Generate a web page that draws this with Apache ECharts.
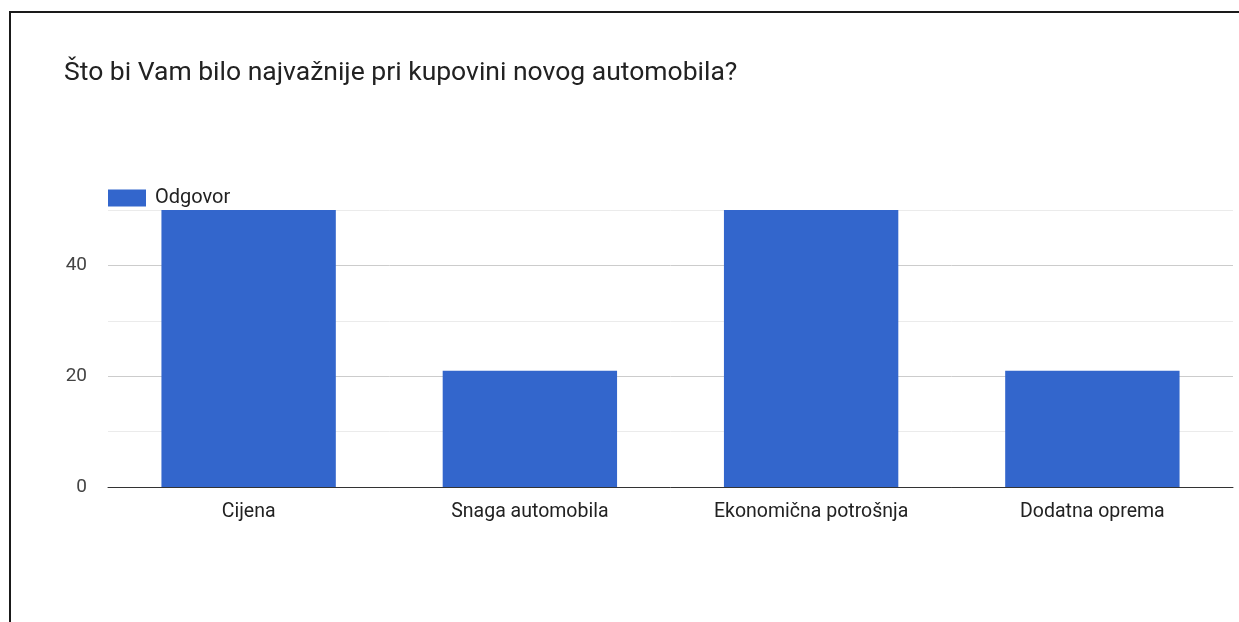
<!DOCTYPE html>
<html>
<head>
<meta charset="utf-8">
<script src="https://cdn.jsdelivr.net/npm/echarts@6/dist/echarts.min.js"></script>
<style>
html,body{margin:0;padding:0;background:#fff;width:1239px;height:622px;overflow:hidden;}
#frame{position:absolute;left:9px;top:11px;right:0;bottom:0;border-left:2px solid #1a1a1a;border-top:2px solid #1a1a1a;}
#chart{position:absolute;left:0;top:0;width:1239px;height:622px;}
</style>
</head>
<body>
<div id="frame"></div>
<div id="chart"></div>
<script>
const titleText = 'Što bi Vam bilo najvažnije pri kupovini novog automobila?';
const seriesName = 'Odgovor';
const categories = ['Cijena', 'Snaga automobila', 'Ekonomična potrošnja', 'Dodatna oprema'];
const values = [50, 21, 50, 21];
const yTickLabels = [0, 20, 40];

const chart = echarts.init(document.getElementById('chart'), null, {renderer: 'canvas'});
chart.setOption({
  animation: false,
  backgroundColor: 'transparent',
  textStyle: {fontFamily: 'Roboto, Arial, sans-serif'},
  title: {
    text: titleText,
    left: 59, top: 55,
    textStyle: {fontFamily: 'Roboto, Arial, sans-serif', fontSize: 26.5, fontWeight: 'normal', color: '#222'}
  },
  legend: {
    left: 103, top: 183,
    itemWidth: 38, itemHeight: 17,
    icon: 'rect',
    data: [seriesName],
    textStyle: {fontSize: 20, color: '#222', padding: [0, 0, 0, 4]}
  },
  grid: {left: 108, right: 6, top: 210, bottom: 135, containLabel: false},
  xAxis: {
    type: 'category',
    data: categories,
    axisLine: {lineStyle: {color: '#333', width: 1}},
    axisTick: {show: false},
    axisLabel: {fontSize: 19.5, color: '#222', margin: 15}
  },
  yAxis: {
    type: 'value',
    min: 0, max: 50, interval: 10,
    axisLine: {show: false},
    axisTick: {show: false},
    axisLabel: {
      fontSize: 19, color: '#444', margin: 21,
      formatter: v => yTickLabels.includes(v) ? String(v) : ''
    },
    splitLine: {lineStyle: {color: ['#cccccc', '#ebebeb'], width: 1}}
  },
  series: [{
    name: seriesName,
    type: 'bar',
    data: values,
    barCategoryGap: '38%',
    itemStyle: {color: '#3366cc'}
  }]
});
</script>
</body>
</html>
